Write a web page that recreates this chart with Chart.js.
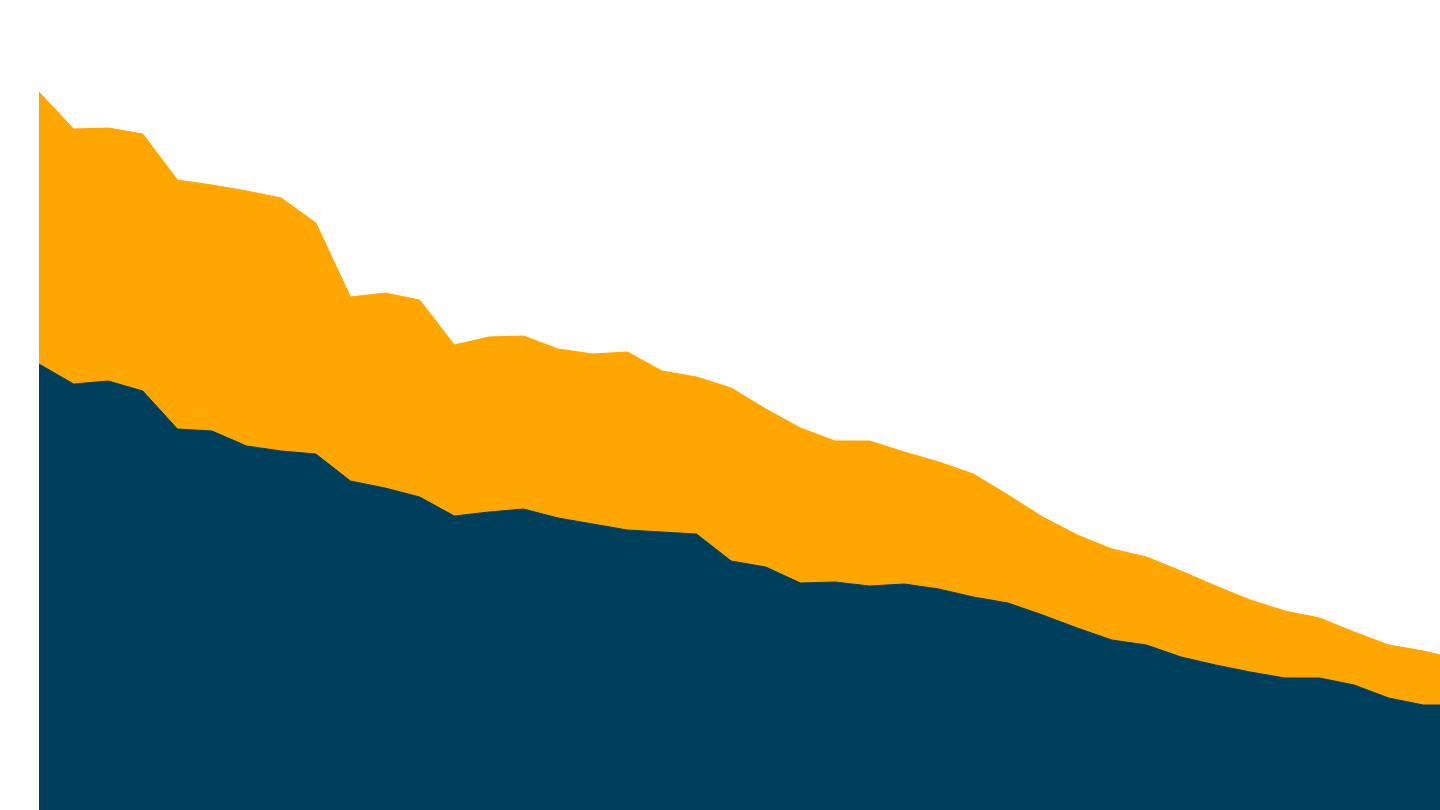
<!DOCTYPE html>
<html>
<head>
<meta charset="utf-8">
<script src="https://cdn.jsdelivr.net/npm/chart.js@4"></script>
<style>
  html, body { margin: 0; padding: 0; width: 1440px; height: 810px; overflow: hidden; background: #ffffff; }
  #wrap { position: absolute; left: 39px; top: 0; width: 1419px; height: 810px; }
</style>
</head>
<body>
<div id="wrap"><canvas id="c"></canvas></div>
<script>
const categories = ["1","2","3","4","5","6","7","8","9","10","11","12","13","14","15","16","17","18","19","20","21","22","23","24","25","26","27","28","29","30","31","32","33","34","35","36","37","38","39","40","41","42"];

const seriesBase = [44.6, 42.6, 42.9, 41.9, 38.1, 37.9, 36.4, 35.9, 35.6, 32.9,
  32.2, 31.3, 29.4, 29.8, 30.1, 29.2, 28.6, 28.0, 27.8, 27.6,
  24.9, 24.3, 22.7, 22.8, 22.4, 22.6, 22.1, 21.3, 20.7, 19.5,
  18.2, 17.0, 16.5, 15.3, 14.5, 13.8, 13.2, 13.2, 12.5, 11.2,
  10.5, 10.5];

const seriesTop = [27.2, 25.5, 25.3, 25.7, 24.9, 24.6, 25.5, 25.3, 23.1, 18.4,
  19.5, 19.7, 17.1, 17.5, 17.3, 16.9, 17.0, 17.8, 16.1, 15.7,
  17.3, 15.8, 15.5, 14.1, 14.5, 13.2, 12.7, 12.3, 10.8, 9.8,
  9.3, 9.1, 8.8, 8.6, 7.9, 7.2, 6.7, 6.0, 5.3, 5.3,
  5.4, 4.6];

const colorBase = "#003f5c";
const colorTop = "#ffa600";

new Chart(document.getElementById("c"), {
  type: "line",
  data: {
    labels: categories,
    datasets: [
      { label: "A", data: seriesBase, backgroundColor: colorBase, borderColor: colorBase,
        borderWidth: 1, fill: "origin", pointRadius: 0, tension: 0 },
      { label: "B", data: seriesTop, backgroundColor: colorTop, borderColor: colorTop,
        borderWidth: 1, fill: "-1", pointRadius: 0, tension: 0 }
    ]
  },
  options: {
    responsive: true,
    maintainAspectRatio: false,
    animation: false,
    layout: { padding: 0 },
    plugins: { legend: { display: false }, tooltip: { enabled: false } },
    scales: {
      x: { display: false, offset: false },
      y: { display: false, stacked: true, min: 0, max: 81 }
    }
  }
});
</script>
</body>
</html>
